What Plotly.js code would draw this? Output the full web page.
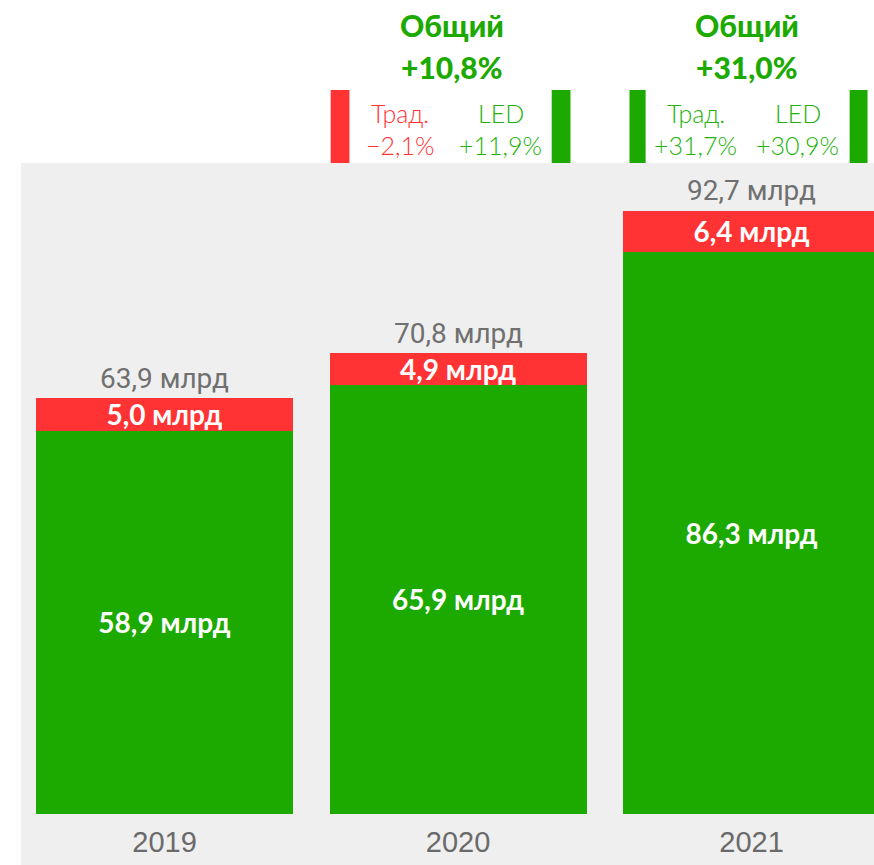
<!DOCTYPE html>
<html>
<head>
<meta charset="utf-8">
<script src="https://cdn.plot.ly/plotly-3.0.1.min.js"></script>
<style>html,body{margin:0;padding:0;background:#fff;}#chart{width:874px;height:865px;}</style>
</head>
<body>
<div id="chart"></div>
<script>
// ---- data ----
const years = ['2019', '2020', '2021'];
const ledValues = [58.9, 65.9, 86.3];
const tradValues = [5.0, 4.9, 6.4];
const totalValues = [63.9, 70.8, 92.7];
const totalGrowth = [null, 10.8, 31.0];
const tradGrowth = [null, -2.1, 31.7];
const ledGrowth = [null, 11.9, 30.9];
const unit = 'млрд';

// ---- helpers ----
const GREEN = '#1caa00';
const RED = '#ff3333';
const TXT_GREEN = '#22b20a';
const fmt = v => v.toFixed(1).replace('.', ',');
const fmtPct = v => (v >= 0 ? '+' : '\u2212') + Math.abs(v).toFixed(1).replace('.', ',') + '%';
const label = v => fmt(v) + ' ' + unit;

const barFont = {family: 'Lato, "Open Sans", sans-serif', size: 28, color: '#ffffff', weight: 700};

const traces = [
  {
    type: 'bar', x: years, y: ledValues,
    marker: {color: GREEN},
    text: ledValues.map(label), textposition: 'inside', insidetextanchor: 'middle',
    textangle: 0, constraintext: 'none', insidetextfont: barFont,
    hoverinfo: 'skip'
  },
  {
    type: 'bar', x: years, y: tradValues,
    marker: {color: RED},
    text: tradValues.map(label), textposition: 'inside', insidetextanchor: 'middle',
    textangle: 0, constraintext: 'none', insidetextfont: barFont,
    hoverinfo: 'skip'
  }
];

const annotations = [];
// totals above each stack (x given as category index)
years.forEach((yr, i) => {
  annotations.push({xref: 'x', yref: 'y', x: i, y: totalValues[i], text: label(totalValues[i]),
    showarrow: false, yanchor: 'middle', xanchor: 'center', yshift: 20,
    font: {family: 'Roboto, sans-serif', size: 28, color: '#707070'}});
});

const shapes = [
  // gray area below plot (under the year labels)
  {type: 'rect', xref: 'paper', yref: 'paper', x0: 0, x1: 1, y0: -0.08, y1: 0,
   fillcolor: '#efefef', line: {width: 0}, layer: 'below'}
];

const offs = {
  1: {hdr: -0.022, trad: -0.199, led: 0.145, l0: -0.434, l1: -0.370, r0: 0.319, r1: 0.383},
  2: {hdr: -0.017, trad: -0.190, led: 0.157, l0: -0.416, l1: -0.361, r0: 0.334, r1: 0.395}
};

years.forEach((yr, i) => {
  if (totalGrowth[i] === null) return;
  const o = offs[i];
  const hdrFont = {family: 'Lato, sans-serif', size: 30, color: GREEN, weight: 900};
  const base = {xref: 'x', yref: 'paper', showarrow: false, yanchor: 'middle', xanchor: 'center'};
  annotations.push(Object.assign({}, base, {x: i + o.hdr, y: 1.212, text: 'Общий', font: hdrFont}));
  annotations.push(Object.assign({}, base, {x: i + o.hdr, y: 1.147, text: fmtPct(totalGrowth[i]), font: hdrFont}));
  const tc = tradGrowth[i] >= 0 ? TXT_GREEN : RED;
  const lc = ledGrowth[i] >= 0 ? TXT_GREEN : RED;
  const thin = c => ({family: 'Lato, sans-serif', size: 25, color: c, weight: 300});
  annotations.push(Object.assign({}, base, {x: i + o.trad, y: 1.077, text: 'Трад.', font: thin(tc)}));
  annotations.push(Object.assign({}, base, {x: i + o.trad, y: 1.028, text: fmtPct(tradGrowth[i]), font: thin(tc)}));
  annotations.push(Object.assign({}, base, {x: i + o.led, y: 1.077, text: 'LED', font: thin(lc)}));
  annotations.push(Object.assign({}, base, {x: i + o.led, y: 1.028, text: fmtPct(ledGrowth[i]), font: thin(lc)}));
  shapes.push({type: 'rect', xref: 'x', yref: 'paper', x0: i + o.l0, x1: i + o.l1, y0: 1, y1: 1.112,
    fillcolor: tradGrowth[i] >= 0 ? GREEN : RED, line: {width: 0}});
  shapes.push({type: 'rect', xref: 'x', yref: 'paper', x0: i + o.r0, x1: i + o.r1, y0: 1, y1: 1.112,
    fillcolor: ledGrowth[i] >= 0 ? GREEN : RED, line: {width: 0}});
});

const layout = {
  width: 874, height: 865,
  margin: {l: 21, r: 0, t: 163, b: 51, pad: 0},
  barmode: 'stack', bargap: 0.124,
  paper_bgcolor: '#ffffff', plot_bgcolor: '#efefef',
  showlegend: false, hovermode: false,
  xaxis: {
    type: 'category', range: [-0.489, 2.417], showgrid: false, zeroline: false,
    showline: false, ticks: '', fixedrange: true, ticklabelstandoff: 8,
    tickfont: {family: '"Liberation Sans", Arial, sans-serif', size: 29, color: '#6a6a6a'}
  },
  yaxis: {range: [0, 100], visible: false, fixedrange: true},
  annotations: annotations,
  shapes: shapes
};

Plotly.newPlot('chart', traces, layout, {displayModeBar: false, staticPlot: true});
</script>
</body>
</html>
